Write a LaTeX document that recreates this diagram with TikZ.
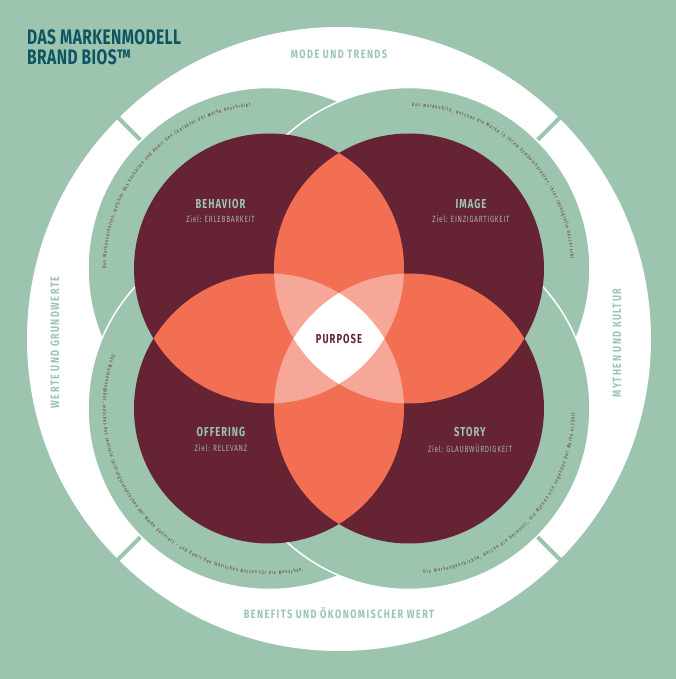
\documentclass[tikz,border=0pt]{standalone}
\usepackage{fontspec}
\setmainfont{Fira Sans}
\newfontfamily\titlefont{Fira Sans}[FakeStretch=0.74, LetterSpace=2]
\newfontfamily\ringfont{Fira Sans}[FakeStretch=0.76, LetterSpace=12]
\newfontfamily\circfont{Fira Sans}[FakeStretch=0.72, LetterSpace=8]
\newfontfamily\tinyfont{Fira Sans}[FakeStretch=0.72]
\newcommand\curvefont{\tinyfont\fontsize{5}{5}\selectfont}
\usetikzlibrary{decorations.text, positioning}
\definecolor{mint}{HTML}{9CC4AF}
\definecolor{wine}{HTML}{652334}
\definecolor{coral}{HTML}{F26F53}
\definecolor{blush}{HTML}{F7A797}
\definecolor{titleteal}{HTML}{0D5562}
\definecolor{zielgray}{HTML}{A6B4AD}

\begin{document}
\begin{tikzpicture}[x=1pt, y=1pt,
  titletext/.style={font=\titlefont\bfseries\fontsize{21}{19.5}\selectfont, text=titleteal,
                    align=left, inner sep=0pt},
  ringlabel/.style={font=\ringfont\bfseries\fontsize{12}{12}\selectfont, text=mint, inner sep=0pt},
  fieldname/.style={font=\circfont\bfseries\fontsize{13}{13}\selectfont, text=mint, inner sep=0pt},
  fieldgoal/.style={font=\circfont\fontsize{9}{9}\selectfont, text=zielgray, inner sep=0pt},
  greendisc/.style={fill=mint, draw=white, line width=1.5pt},
  divider/.style={draw=mint, line width=4pt},
  curvetext/.style={decorate, decoration={text along path, text color=wine,
                    text align={fit to path}}}
]
\useasboundingbox (-339,-340.5) rectangle (337,338.5);
\fill[mint] (-339,-340.5) rectangle (337,338.5);

% centres of the four fields
\coordinate (beh) at (-70,70);
\coordinate (img) at (70,70);
\coordinate (off) at (-70,-70);
\coordinate (sto) at (70,-70);

% outer white ring with its four dividers
\fill[white] (0,-0.5) circle (312pt);
\foreach \a in {45,135,225,315}
  \draw[divider] (\a:266pt) -- (\a:316pt);

% green discs round the fields
\foreach \c in {beh,img,off,sto}
  \draw[greendisc] (\c) circle (181pt);

% the four fields and their overlaps
\foreach \c in {beh,img,off,sto}
  \fill[wine] (\c) circle (135pt);
\foreach \p/\q in {beh/img, beh/off, img/sto, off/sto} {
  \begin{scope}
    \clip (\p) circle (135pt);
    \fill[coral] (\q) circle (135pt);
  \end{scope}
}
\foreach \p/\q/\r in {beh/img/off, beh/img/sto, beh/off/sto, img/off/sto} {
  \begin{scope}
    \clip (\p) circle (135pt);
    \clip (\q) circle (135pt);
    \fill[blush] (\r) circle (135pt);
  \end{scope}
}
\begin{scope}
  \clip (beh) circle (135pt);
  \clip (img) circle (135pt);
  \clip (off) circle (135pt);
  \fill[white] (sto) circle (135pt);
\end{scope}

% descriptions along the green discs
\path[curvetext, decoration={text={|\curvefont|Das Markenverhalten, welches das Verhalten und damit den Charakter der Marke beschreibt.}}]
  ([shift={(180:163pt)}]beh) arc[start angle=180, end angle=96, radius=163pt];
\path[curvetext, decoration={text={|\curvefont|Das Markenbild, welches die Marke in ihrem Symbolcharakter, ihrer Ikonografie beschreibt.}}]
  ([shift={(89:162pt)}]img) arc[start angle=89, end angle=3, radius=162pt];
\path[curvetext, decoration={text={|\curvefont|Das Markenangebot, welches das zentrale Leistungsversprechen der Marke definiert – und damit den faktischen Nutzen für die Menschen.}}]
  ([shift={(161:166pt)}]off) arc[start angle=161, end angle=282, radius=166pt];
\path[curvetext, decoration={text={|\curvefont|Die Markengeschichte, welche die Herkunft, die Mythen und Legenden der Marke erzählt.}}]
  ([shift={(275:166pt)}]sto) arc[start angle=275, end angle=359, radius=166pt];

% title
\node[titletext, anchor=north west] (title) at (-312,309) {DAS MARKENMODELL\\BRAND BIOS™};

% ring labels
\node[ringlabel] (trends) at (0,283.8) {MODE UND TRENDS};
\node[ringlabel] (benefits) at (0,-274.5) {BENEFITS UND ÖKONOMISCHER WERT};
\node[ringlabel, rotate=90] (werte) at (-284,-4) {WERTE UND GRUNDWERTE};
\node[ringlabel, rotate=90] (mythen) at (278,-4.5) {MYTHEN UND KULTUR};

% field labels
\node[fieldname] (behavior) at (-118.5,135) {BEHAVIOR};
\node[fieldgoal, below=7pt of behavior] (behaviorgoal) {Ziel: ERLEBBARKEIT};
\node[fieldname] (image) at (132,135) {IMAGE};
\node[fieldgoal, below=7pt of image] (imagegoal) {Ziel: EINZIGARTIGKEIT};
\node[fieldname] (offering) at (-118,-93.5) {OFFERING};
\node[fieldgoal, below=7pt of offering] (offeringgoal) {Ziel: RELEVANZ};
\node[fieldname] (story) at (131,-93.5) {STORY};
\node[fieldgoal, below=7pt of story] (storygoal) {Ziel: GLAUBWÜRDIGKEIT};
\node[fieldname, text=wine] (purpose) at (0,-0.5) {PURPOSE};
\end{tikzpicture}
\end{document}
